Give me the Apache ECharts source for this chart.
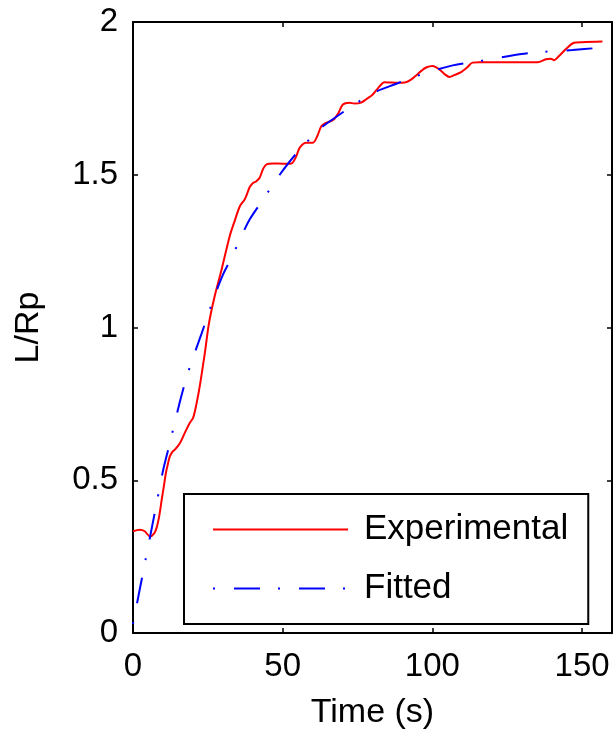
<!DOCTYPE html>
<html>
<head>
<meta charset="utf-8">
<script src="https://cdn.jsdelivr.net/npm/echarts@6/dist/echarts.min.js"></script>
<style>
html,body{margin:0;padding:0;background:#fff;}
#chart{width:615px;height:738px;}
</style>
</head>
<body>
<div id="chart"></div>
<script>
// Experimental curve (time in s, L/Rp)
var expTime  = [0, 2.3, 3.9, 5.7, 7.0, 7.9, 8.8, 9.6, 10.3, 11.0, 11.7, 12.3, 13.2, 14.0, 15.7, 17.3, 19.0, 20.1, 21.2, 22.3, 24.0, 25.4, 27.3, 29.6, 32.3, 34.0, 35.7, 37.3, 38.2, 39.0, 40.0, 41.2, 42.3, 43.5, 44.6, 46.8, 50.0, 52.9, 54.5, 55.7, 57.9, 60.1, 61.5, 62.9, 64.5, 66.8, 68.5, 70.1, 72.3, 74.0, 76.2, 78.0, 80.1, 82.0, 84.0, 86.0, 87.9, 91.2, 93.0, 94.6, 96.3, 97.9, 100.1, 102.3, 104.0, 105.7, 107.5, 109.6, 111.5, 113.4, 115.7, 125.0, 135.1, 137.9, 139.5, 140.7, 142.3, 145.0, 147.3, 150.1, 156.8];
var expValue = [0.333, 0.338, 0.333, 0.316, 0.325, 0.345, 0.385, 0.437, 0.48, 0.524, 0.555, 0.578, 0.594, 0.600, 0.622, 0.655, 0.688, 0.705, 0.75, 0.808, 0.917, 1.015, 1.103, 1.190, 1.299, 1.35, 1.397, 1.419, 1.44, 1.460, 1.472, 1.479, 1.49, 1.52, 1.534, 1.537, 1.536, 1.537, 1.56, 1.589, 1.605, 1.605, 1.625, 1.659, 1.670, 1.679, 1.700, 1.730, 1.736, 1.733, 1.736, 1.748, 1.763, 1.785, 1.803, 1.802, 1.801, 1.803, 1.812, 1.825, 1.840, 1.851, 1.856, 1.845, 1.830, 1.820, 1.827, 1.836, 1.85, 1.867, 1.868, 1.868, 1.868, 1.878, 1.880, 1.875, 1.889, 1.915, 1.932, 1.934, 1.936];

// Fitted curve
var fitTime  = [0, 2, 4, 6, 8, 10, 12, 14, 16, 18, 20, 22.9, 25.1, 27.5, 30.1, 32.9, 36.2, 39, 42.3, 45.7, 49, 54, 62.3, 68.4, 74, 80, 88, 94.6, 106.8, 114.6, 125.7, 134, 146.8, 156];
var fitValue = [0.03, 0.13, 0.23, 0.33, 0.43, 0.53, 0.61, 0.69, 0.77, 0.84, 0.90, 0.98, 1.043, 1.11, 1.174, 1.228, 1.299, 1.354, 1.403, 1.452, 1.50, 1.563, 1.649, 1.693, 1.73, 1.767, 1.798, 1.823, 1.858, 1.870, 1.889, 1.900, 1.908, 1.916];

var seriesNames = ['Experimental', 'Fitted'];
var xTitle = 'Time (s)';
var yTitle = 'L/Rp';

function pairs(xs, ys) {
  var out = [];
  for (var i = 0; i < xs.length; i++) out.push([xs[i], ys[i]]);
  return out;
}

var FONT = '"Liberation Sans", Arial, sans-serif';
function axisLine() { return {show: true, onZero: false, lineStyle: {color: '#000', width: 2}}; }
function tickIn() { return {show: true, inside: true, length: 5, lineStyle: {color: '#000', width: 1.5}}; }

var chart = echarts.init(document.getElementById('chart'), null, {renderer: 'canvas'});
chart.setOption({
  backgroundColor: '#fff',
  animation: false,
  grid: {left: 133, top: 22, right: 3, bottom: 105, containLabel: false},
  xAxis: [{
    type: 'value', min: 0, max: 160, interval: 50, position: 'bottom',
    axisLine: axisLine(), axisTick: tickIn(), splitLine: {show: false},
    axisLabel: {fontSize: 33, color: '#000', fontFamily: FONT, margin: 17, showMaxLabel: false},
    name: xTitle, nameLocation: 'middle', nameGap: 63,
    nameTextStyle: {fontSize: 34, color: '#000', fontFamily: FONT}
  }, {
    type: 'value', min: 0, max: 160, interval: 50, position: 'top',
    axisLine: axisLine(), axisTick: tickIn(), splitLine: {show: false},
    axisLabel: {show: false}
  }],
  yAxis: [{
    type: 'value', min: 0, max: 2, interval: 0.5, position: 'left',
    axisLine: axisLine(), axisTick: tickIn(), splitLine: {show: false},
    axisLabel: {fontSize: 33, color: '#000', fontFamily: FONT, margin: 15},
    name: yTitle, nameLocation: 'middle', nameGap: 87, nameRotate: 90,
    nameTextStyle: {fontSize: 34, color: '#000', fontFamily: FONT}
  }, {
    type: 'value', min: 0, max: 2, interval: 0.5, position: 'right',
    axisLine: axisLine(), axisTick: tickIn(), splitLine: {show: false},
    axisLabel: {show: false}
  }],
  legend: {
    orient: 'vertical', left: 184, top: 494,
    padding: [18, 20, 18, 28],
    itemWidth: 135, itemHeight: 14, itemGap: 24,
    backgroundColor: '#fff', borderColor: '#000', borderWidth: 2,
    itemStyle: {opacity: 0},
    textStyle: {fontSize: 35, color: '#000', fontFamily: FONT, padding: [0, 0, 0, 11]},
    data: seriesNames
  },
  series: [{
    name: seriesNames[0], type: 'line', xAxisIndex: 0, yAxisIndex: 0,
    data: pairs(expTime, expValue), showSymbol: false, symbol: 'none',
    smooth: 0.3, z: 2,
    lineStyle: {color: '#ff0000', width: 2},
    itemStyle: {color: '#ff0000'}
  }, {
    name: seriesNames[1], type: 'line', xAxisIndex: 0, yAxisIndex: 0,
    data: pairs(fitTime, fitValue), showSymbol: false, symbol: 'none',
    smooth: 0.3, z: 3,
    lineStyle: {color: '#0000ff', width: 2, type: [2, 19, 26, 18]},
    itemStyle: {color: '#0000ff'}
  }]
});
</script>
</body>
</html>
